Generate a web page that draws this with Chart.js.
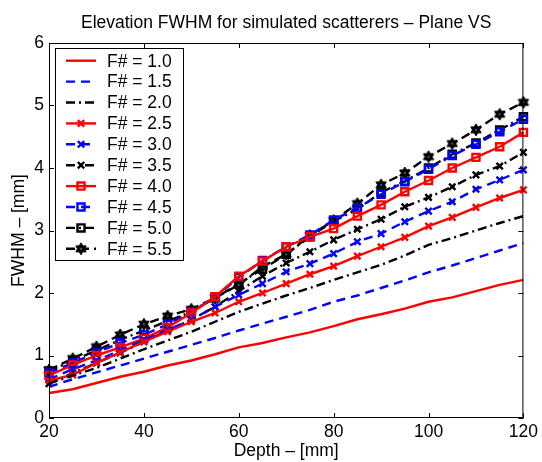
<!DOCTYPE html>
<html>
<head>
<meta charset="utf-8">
<script src="https://cdn.jsdelivr.net/npm/chart.js@4/dist/chart.umd.min.js"></script>
<style>
  html, body { margin: 0; padding: 0; background: #fff; }
  #wrap { width: 542px; height: 462px; }
</style>
</head>
<body>
<div id="wrap"><canvas id="fwhm-chart" width="542" height="462"></canvas></div>
<script>
// depth in mm
const depth = [20, 25, 30, 35, 40, 45, 50, 55, 60, 65, 70, 75, 80, 85, 90, 95, 100, 105, 110, 115, 120];

const fwhm10 = [0.40, 0.46, 0.56, 0.66, 0.74, 0.84, 0.92, 1.02, 1.13, 1.20, 1.29, 1.37, 1.47, 1.58, 1.66, 1.75, 1.86, 1.93, 2.03, 2.13, 2.21];
const fwhm15 = [0.50, 0.62, 0.73, 0.84, 0.95, 1.06, 1.17, 1.28, 1.40, 1.51, 1.62, 1.73, 1.86, 1.96, 2.08, 2.20, 2.33, 2.44, 2.56, 2.68, 2.80];
const fwhm20 = [0.55, 0.68, 0.80, 0.95, 1.10, 1.24, 1.38, 1.54, 1.70, 1.83, 1.96, 2.08, 2.21, 2.33, 2.45, 2.60, 2.77, 2.88, 3.00, 3.12, 3.23];
const fwhm25 = [0.60, 0.69, 0.88, 1.05, 1.22, 1.38, 1.54, 1.68, 1.86, 2.00, 2.15, 2.30, 2.43, 2.59, 2.74, 2.89, 3.07, 3.21, 3.37, 3.52, 3.65];
const fwhm30 = [0.62, 0.78, 0.92, 1.08, 1.25, 1.41, 1.57, 1.78, 1.97, 2.15, 2.34, 2.47, 2.63, 2.82, 2.95, 3.14, 3.31, 3.46, 3.66, 3.81, 3.97];
const fwhm35 = [0.55, 0.72, 0.88, 1.04, 1.22, 1.40, 1.57, 1.78, 2.03, 2.27, 2.48, 2.66, 2.85, 3.02, 3.18, 3.38, 3.53, 3.70, 3.89, 4.03, 4.25];
const fwhm40 = [0.68, 0.85, 1.00, 1.13, 1.27, 1.45, 1.68, 1.94, 2.27, 2.51, 2.74, 2.90, 3.03, 3.23, 3.41, 3.62, 3.80, 4.00, 4.17, 4.34, 4.57];
const fwhm45 = [0.72, 0.88, 1.05, 1.20, 1.33, 1.50, 1.70, 1.93, 2.25, 2.52, 2.74, 2.93, 3.17, 3.36, 3.58, 3.78, 3.98, 4.20, 4.38, 4.58, 4.78];
const fwhm50 = [0.75, 0.92, 1.08, 1.25, 1.40, 1.55, 1.70, 1.92, 2.15, 2.38, 2.62, 2.90, 3.15, 3.34, 3.61, 3.79, 4.00, 4.22, 4.40, 4.61, 4.82];
const fwhm55 = [0.77, 0.95, 1.14, 1.33, 1.50, 1.63, 1.74, 1.92, 2.13, 2.42, 2.62, 2.92, 3.16, 3.43, 3.73, 3.92, 4.18, 4.39, 4.61, 4.86, 5.05];

const seriesLabels = ['F# = 1.0', 'F# = 1.5', 'F# = 2.0', 'F# = 2.5', 'F# = 3.0', 'F# = 3.5', 'F# = 4.0', 'F# = 4.5', 'F# = 5.0', 'F# = 5.5'];
const seriesValues = [fwhm10, fwhm15, fwhm20, fwhm25, fwhm30, fwhm35, fwhm40, fwhm45, fwhm50, fwhm55];

const xTicks = [20, 40, 60, 80, 100, 120];
const yTicks = [0, 1, 2, 3, 4, 5, 6];

const FONT = 'Liberation Sans, Arial, Helvetica, sans-serif';
const FSIZE = 17.5;

// hexagram marker
function makeStar(size) {
    const c = document.createElement('canvas');
    c.width = size; c.height = size;
    const g = c.getContext('2d');
    const cx = size / 2, cy = size / 2, R = size / 2 - 1, r = R * 0.577;
    g.beginPath();
    for (let i = 0; i < 12; i++) {
        const a = -Math.PI / 2 + i * Math.PI / 6;
        const rr = i % 2 === 0 ? R : r;
        const px = cx + rr * Math.cos(a), py = cy + rr * Math.sin(a);
        if (i === 0) g.moveTo(px, py); else g.lineTo(px, py);
    }
    g.closePath();
    g.fillStyle = '#000';
    g.fill();
    g.lineWidth = 1;
    g.strokeStyle = '#000';
    g.stroke();
    g.fillStyle = '#555';
    g.fillRect(cx - 1, cy - 1, 2, 2);
    return c;
}
const star = makeStar(14);

const colors = ['#ff0000', '#0000ff', '#000000'];
const dashes = [[], [9, 6], [9, 4, 2, 4]];
const markers = [false, 'crossRot', 'rect', star];
const markerRadius = { crossRot: 4.5, rect: 5 };

function styleFor(i) {
    let c = colors[i % 3];
    let dash = dashes[i % 3];
    let marker = markers[Math.floor(i / 3)];
    if (i === 9) { c = '#000000'; dash = [9, 5]; }
    return { c, dash, marker };
}

const datasets = seriesValues.map((vals, i) => {
    const s = styleFor(i);
    return {
        label: seriesLabels[i],
        data: depth.map((d, k) => ({ x: d, y: vals[k] })),
        borderColor: s.c,
        backgroundColor: s.c,
        borderWidth: 2.4,
        borderDash: s.dash,
        pointStyle: s.marker || 'circle',
        pointRadius: s.marker ? (typeof s.marker === 'string' ? markerRadius[s.marker] : 7) : 0,
        pointBorderColor: s.c,
        pointBackgroundColor: 'rgba(0,0,0,0)',
        pointBorderWidth: 2.4,
        pointHoverRadius: 0,
        tension: 0,
        clip: false,
        fill: false
    };
});

// MATLAB style frame, inward ticks, title and legend
const matlabFrame = {
    id: 'matlabFrame',
    afterDatasetsDraw(chart) {
        const { ctx, chartArea: a, scales } = chart;
        ctx.save();
        ctx.strokeStyle = '#000';
        ctx.lineWidth = 1;
        ctx.setLineDash([]);
        ctx.strokeRect(a.left + 0.5, a.top + 0.5, a.right - a.left - 1, a.bottom - a.top - 1);
        const tl = 5;
        ctx.beginPath();
        xTicks.forEach(v => {
            const px = Math.round(scales.x.getPixelForValue(v)) + 0.5;
            ctx.moveTo(px, a.bottom); ctx.lineTo(px, a.bottom - tl);
            ctx.moveTo(px, a.top); ctx.lineTo(px, a.top + tl);
        });
        yTicks.forEach(v => {
            const py = Math.round(scales.y.getPixelForValue(v)) + 0.5;
            ctx.moveTo(a.left, py); ctx.lineTo(a.left + tl, py);
            ctx.moveTo(a.right, py); ctx.lineTo(a.right - tl, py);
        });
        ctx.stroke();

        // title
        ctx.fillStyle = '#000';
        ctx.font = FSIZE + 'px ' + FONT;
        ctx.textAlign = 'center';
        ctx.textBaseline = 'middle';
        ctx.fillText('Elevation FWHM for simulated scatterers \u2013 Plane VS', (a.left + a.right) / 2, 23);

        // legend
        const lx = 55, ly = 48, lw = 128, lh = 212, row = 20.9;
        ctx.fillStyle = '#fff';
        ctx.fillRect(lx, ly, lw, lh);
        ctx.strokeRect(lx + 0.5, ly + 0.5, lw, lh);
        chart.data.datasets.forEach((ds, i) => {
            const y = ly + 12.7 + i * row;
            ctx.strokeStyle = ds.borderColor;
            ctx.lineWidth = ds.borderWidth;
            ctx.setLineDash(ds.borderDash);
            ctx.beginPath();
            ctx.moveTo(66, y); ctx.lineTo(96, y);
            ctx.stroke();
            ctx.setLineDash([]);
            if (ds.pointRadius > 0) {
                ctx.fillStyle = 'rgba(0,0,0,0)';
                ctx.strokeStyle = ds.pointBorderColor;
                ctx.lineWidth = ds.pointBorderWidth;
                Chart.helpers.drawPoint(ctx, { pointStyle: ds.pointStyle, radius: ds.pointRadius, rotation: 0, borderWidth: 2 }, 81, y);
            }
            ctx.fillStyle = '#000';
            ctx.font = FSIZE + 'px ' + FONT;
            ctx.textAlign = 'left';
            ctx.textBaseline = 'middle';
            ctx.fillText(ds.label, 107, y + 1);
        });
        ctx.restore();
    }
};

new Chart(document.querySelector('#fwhm-chart').getContext('2d'), {
    type: 'line',
    data: { datasets },
    options: {
        responsive: false,
        animation: false,
        events: [],
        layout: { padding: { top: 43, right: 15, left: 0, bottom: 0 } },
        plugins: { legend: { display: false }, title: { display: false }, tooltip: { enabled: false } },
        scales: {
            x: {
                type: 'linear',
                min: 20, max: 120,
                afterFit(scale) { scale.height = 44; },
                afterBuildTicks(scale) { scale.ticks = xTicks.map(v => ({ value: v })); },
                grid: { display: false, drawTicks: false },
                border: { display: false },
                ticks: { color: '#000', font: { family: FONT, size: FSIZE }, padding: 4, maxRotation: 0 },
                title: { display: true, text: 'Depth \u2013 [mm]', color: '#000', font: { family: FONT, size: FSIZE }, padding: { top: 0, bottom: 0 } }
            },
            y: {
                type: 'linear',
                min: 0, max: 6,
                afterFit(scale) { scale.width = 49; },
                afterBuildTicks(scale) { scale.ticks = yTicks.map(v => ({ value: v })); },
                grid: { display: false, drawTicks: false },
                border: { display: false },
                ticks: { color: '#000', font: { family: FONT, size: FSIZE }, padding: 5 },
                title: { display: true, text: 'FWHM \u2013 [mm]', color: '#000', font: { family: FONT, size: FSIZE }, padding: { top: 9, bottom: 0 } }
            }
        }
    },
    plugins: [matlabFrame]
});
</script>
</body>
</html>
